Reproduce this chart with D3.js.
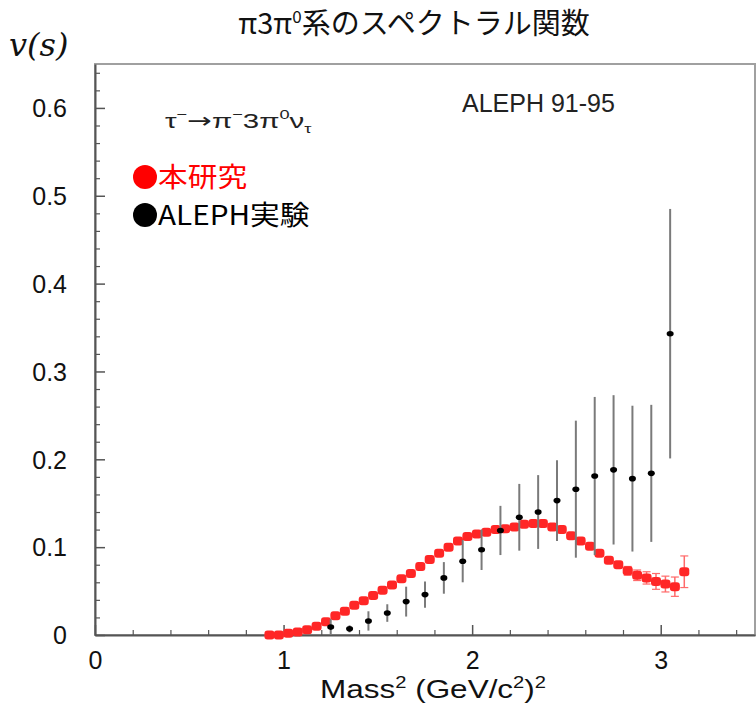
<!DOCTYPE html>
<html>
<head>
<meta charset="utf-8">
<script src="https://cdn.jsdelivr.net/npm/d3@7"></script>
<style>
  html, body { margin: 0; padding: 0; background: #fff; }
  svg { display: block; }
</style>
</head>
<body>
<svg id="chart" width="756" height="703"></svg>
<script>
// Spectral function of the pi- 3pi0 channel: this work (red) vs ALEPH 91-95 (black)

// This work: bin centres (GeV^2), values and errors
const thisMass = [
  0.925, 0.975, 1.025, 1.075, 1.125, 1.175, 1.225, 1.275, 1.325, 1.375,
  1.425, 1.475, 1.525, 1.575, 1.625, 1.675, 1.725, 1.775, 1.825, 1.875,
  1.925, 1.975, 2.025, 2.075, 2.125, 2.175, 2.225, 2.275, 2.325, 2.375,
  2.425, 2.475, 2.525, 2.575, 2.625, 2.675, 2.725, 2.775, 2.825, 2.875,
  2.925, 2.975, 3.025, 3.075, 3.125
];
const thisValue = [
  0.000, 0.000, 0.002, 0.0035, 0.006, 0.010, 0.015, 0.022, 0.027, 0.034,
  0.039, 0.045, 0.051, 0.057, 0.064, 0.070, 0.078, 0.086, 0.093, 0.100,
  0.107, 0.112, 0.115, 0.117, 0.120, 0.121, 0.123, 0.126, 0.127, 0.127,
  0.123, 0.120, 0.113, 0.107, 0.101, 0.093, 0.085, 0.080, 0.073, 0.068,
  0.065, 0.061, 0.058, 0.055, 0.072
];
const thisError = [
  0.001, 0.001, 0.001, 0.001, 0.001, 0.001, 0.001, 0.001, 0.001, 0.001,
  0.001, 0.001, 0.001, 0.001, 0.001, 0.001, 0.001, 0.001, 0.001, 0.001,
  0.001, 0.001, 0.001, 0.001, 0.001, 0.001, 0.001, 0.001, 0.001, 0.002,
  0.002, 0.002, 0.002, 0.002, 0.002, 0.003, 0.003, 0.004, 0.005, 0.006,
  0.007, 0.009, 0.009, 0.011, 0.018
];
const thisHalfWidth = 0.025;

// ALEPH 91-95 measurement
const alephMass = [
  1.25, 1.35, 1.45, 1.55, 1.65, 1.75, 1.85, 1.95, 2.05, 2.15,
  2.25, 2.35, 2.45, 2.55, 2.65, 2.75, 2.85, 2.95, 3.05
];
const alephValue = [
  0.009, 0.007, 0.016, 0.025, 0.038, 0.046, 0.065, 0.084, 0.097, 0.119,
  0.134, 0.140, 0.153, 0.166, 0.181, 0.188, 0.178, 0.184, 0.343
];
const alephError = [
  0.009, 0.004, 0.011, 0.010, 0.017, 0.015, 0.018, 0.024, 0.023, 0.028,
  0.038, 0.042, 0.046, 0.078, 0.090, 0.085, 0.083, 0.078, 0.142
];

// Axis ticks
const xMajorTicks = [0, 1, 2, 3];
const xMinorTicks = [0.2, 0.4, 0.6, 0.8, 1.2, 1.4, 1.6, 1.8, 2.2, 2.4, 2.6, 2.8, 3.2, 3.4];
const yMajorTicks = [0, 0.1, 0.2, 0.3, 0.4, 0.5, 0.6];
const yMinorTicks = d3.range(0, 66, 2).map(v => v / 100).filter(v => Math.round(v * 100) % 10 !== 0);
const xTickLabels = ["0", "1", "2", "3"];
const yTickLabels = ["0", "0.1", "0.2", "0.3", "0.4", "0.5", "0.6"];

const svg = d3.select("#chart");
const frame = { left: 95, right: 755, top: 64, bottom: 635 };

const x = d3.scaleLinear().domain([0, 3.5]).range([frame.left, frame.right]);
const y = d3.scaleLinear().domain([0, 0.65]).range([frame.bottom, frame.top]);

const sans = "'Liberation Sans', Arial, sans-serif";
const cjk = "'Noto Sans CJK JP', sans-serif";

// Slight softness on the plotted markers
const defs = svg.append("defs");
defs.append("filter").attr("id", "soft")
  .append("feGaussianBlur").attr("stdDeviation", 0.5);

// Frame (top and right)
svg.append("rect")
  .attr("x", frame.left).attr("y", frame.top)
  .attr("width", frame.right - frame.left).attr("height", frame.bottom - frame.top)
  .attr("fill", "none").attr("stroke", "#a0a0a0").attr("stroke-width", 2);

// X axis: inward ticks
const xMajor = svg.append("g").attr("transform", `translate(0,${frame.bottom})`)
  .call(d3.axisBottom(x).tickValues(xMajorTicks).tickSizeInner(-10).tickSizeOuter(0)
    .tickFormat((d, i) => xTickLabels[i]));
xMajor.select(".domain").attr("stroke", "#555").attr("stroke-width", 2);
xMajor.selectAll(".tick line").attr("stroke", "#555").attr("stroke-width", 1.5);
xMajor.selectAll(".tick text")
  .attr("y", 34).attr("dy", 0)
  .attr("font-family", sans).attr("font-size", 25).attr("fill", "#111");

const xMinor = svg.append("g").attr("transform", `translate(0,${frame.bottom})`)
  .call(d3.axisBottom(x).tickValues(xMinorTicks).tickSizeInner(-5).tickSizeOuter(0).tickFormat(""));
xMinor.select(".domain").remove();
xMinor.selectAll(".tick line").attr("stroke", "#555").attr("stroke-width", 1.2);

// Y axis: inward ticks
const yMajor = svg.append("g").attr("transform", `translate(${frame.left},0)`)
  .call(d3.axisLeft(y).tickValues(yMajorTicks).tickSizeInner(-10).tickSizeOuter(0)
    .tickFormat((d, i) => yTickLabels[i]));
yMajor.select(".domain").attr("stroke", "#555").attr("stroke-width", 2);
yMajor.selectAll(".tick line").attr("stroke", "#555").attr("stroke-width", 1.5);
yMajor.selectAll(".tick text")
  .attr("x", -28).attr("dy", "0.35em")
  .attr("font-family", sans).attr("font-size", 25).attr("fill", "#111");

const yMinor = svg.append("g").attr("transform", `translate(${frame.left},0)`)
  .call(d3.axisLeft(y).tickValues(yMinorTicks).tickSizeInner(-5).tickSizeOuter(0).tickFormat(""));
yMinor.select(".domain").remove();
yMinor.selectAll(".tick line").attr("stroke", "#555").attr("stroke-width", 1.2);

// This work: horizontal bin bars, vertical errors, square markers
const thisData = thisMass.map((m, i) => ({ m, v: thisValue[i], e: thisError[i] }));
const red = svg.append("g").attr("filter", "url(#soft)");
red.selectAll("line.hbar").data(thisData).join("line")
  .attr("x1", d => x(d.m - thisHalfWidth)).attr("x2", d => x(d.m + thisHalfWidth))
  .attr("y1", d => y(d.v)).attr("y2", d => y(d.v))
  .attr("stroke", "#ff6a6a").attr("stroke-width", 2);
red.selectAll("line.vbar").data(thisData).join("line")
  .attr("x1", d => x(d.m)).attr("x2", d => x(d.m))
  .attr("y1", d => y(d.v - d.e)).attr("y2", d => y(d.v + d.e))
  .attr("stroke", "#ff6a6a").attr("stroke-width", 1.5);
const capped = thisData.filter(d => d.e >= 0.005);
red.selectAll("line.capt").data(capped).join("line")
  .attr("x1", d => x(d.m) - 4).attr("x2", d => x(d.m) + 4)
  .attr("y1", d => y(d.v + d.e)).attr("y2", d => y(d.v + d.e))
  .attr("stroke", "#ff6a6a").attr("stroke-width", 1.2);
red.selectAll("line.capb").data(capped).join("line")
  .attr("x1", d => x(d.m) - 4).attr("x2", d => x(d.m) + 4)
  .attr("y1", d => y(d.v - d.e)).attr("y2", d => y(d.v - d.e))
  .attr("stroke", "#ff6a6a").attr("stroke-width", 1.2);
red.selectAll("rect.mk").data(thisData).join("rect")
  .attr("x", d => x(d.m) - 5).attr("y", d => y(d.v) - 4.5)
  .attr("width", 10).attr("height", 9).attr("rx", 3)
  .attr("fill", "#ff2828");

// ALEPH: vertical error bars and small dots
const alephData = alephMass.map((m, i) => ({ m, v: alephValue[i], e: alephError[i] }));
const blk = svg.append("g").attr("filter", "url(#soft)");
blk.selectAll("line").data(alephData).join("line")
  .attr("x1", d => x(d.m)).attr("x2", d => x(d.m))
  .attr("y1", d => y(Math.max(0, d.v - d.e))).attr("y2", d => y(d.v + d.e))
  .attr("stroke", "#7a7a7a").attr("stroke-width", 2);
blk.selectAll("ellipse").data(alephData).join("ellipse")
  .attr("cx", d => x(d.m)).attr("cy", d => y(d.v))
  .attr("rx", 3.5).attr("ry", 2.8).attr("fill", "#000");

// X axis title (set slightly wide)
const xt = svg.append("g").attr("transform", "translate(433,698) scale(1.26,1)")
  .append("text").attr("text-anchor", "middle")
  .attr("font-family", sans).attr("font-size", 25).attr("fill", "#111");
xt.append("tspan").text("Mass");
xt.append("tspan").attr("font-size", 16).attr("dy", -10).text("2");
xt.append("tspan").attr("dy", 10).text(" (GeV/c");
xt.append("tspan").attr("font-size", 16).attr("dy", -10).text("2");
xt.append("tspan").attr("dy", 10).text(")");
xt.append("tspan").attr("font-size", 16).attr("dy", -10).text("2");

// Y axis title
svg.append("text")
  .attr("x", 9).attr("y", 56)
  .attr("font-family", "'DejaVu Serif', serif").attr("font-style", "italic")
  .attr("font-size", 32).attr("fill", "#111")
  .text("v(s)");

// Chart title
const title = svg.append("text")
  .attr("x", 414).attr("y", 34).attr("text-anchor", "middle")
  .attr("font-family", cjk).attr("font-size", 29).attr("fill", "#111");
title.append("tspan").text("π3π");
title.append("tspan").attr("font-size", 17).attr("dy", -11).text("0");
title.append("tspan").attr("dy", 11).text("系のスペクトラル関数");

// Decay channel label (wide setting)
const decay = svg.append("g").attr("transform", "translate(165,128) scale(1.4,1)")
  .append("text")
  .attr("font-family", sans).attr("font-size", 21).attr("fill", "#222");
decay.append("tspan").text("τ");
decay.append("tspan").attr("font-size", 13).attr("dy", -9).text("−");
decay.append("tspan").attr("dy", 9).attr("font-family", "'DejaVu Sans', sans-serif").text("→");
decay.append("tspan").text("π");
decay.append("tspan").attr("font-size", 13).attr("dy", -9).text("−");
decay.append("tspan").attr("dy", 9).text("3π");
decay.append("tspan").attr("font-size", 13).attr("dy", -9).text("0");
decay.append("tspan").attr("dy", 9).text("ν");
decay.append("tspan").attr("font-size", 13).attr("dy", 5).text("τ");

// Experiment tag
svg.append("text")
  .attr("x", 462).attr("y", 112)
  .attr("font-family", sans).attr("font-size", 25).attr("fill", "#222")
  .text("ALEPH 91-95");

// Legend
const legendItems = [
  { label: "本研究", color: "#ff0000", cy: 177 },
  { label: "ALEPH実験", color: "#000000", cy: 215 }
];
const lg = svg.append("g");
lg.selectAll("circle").data(legendItems).join("circle")
  .attr("cx", 145).attr("cy", d => d.cy).attr("r", 12).attr("fill", d => d.color);
lg.selectAll("g.item").data(legendItems).join("g")
  .attr("class", "item")
  .attr("transform", d => `translate(158,${d.cy + 10}) scale(1.1,1)`)
  .append("text")
  .attr("font-family", cjk).attr("font-size", 27).attr("fill", d => d.color)
  .text(d => d.label);
</script>
</body>
</html>
